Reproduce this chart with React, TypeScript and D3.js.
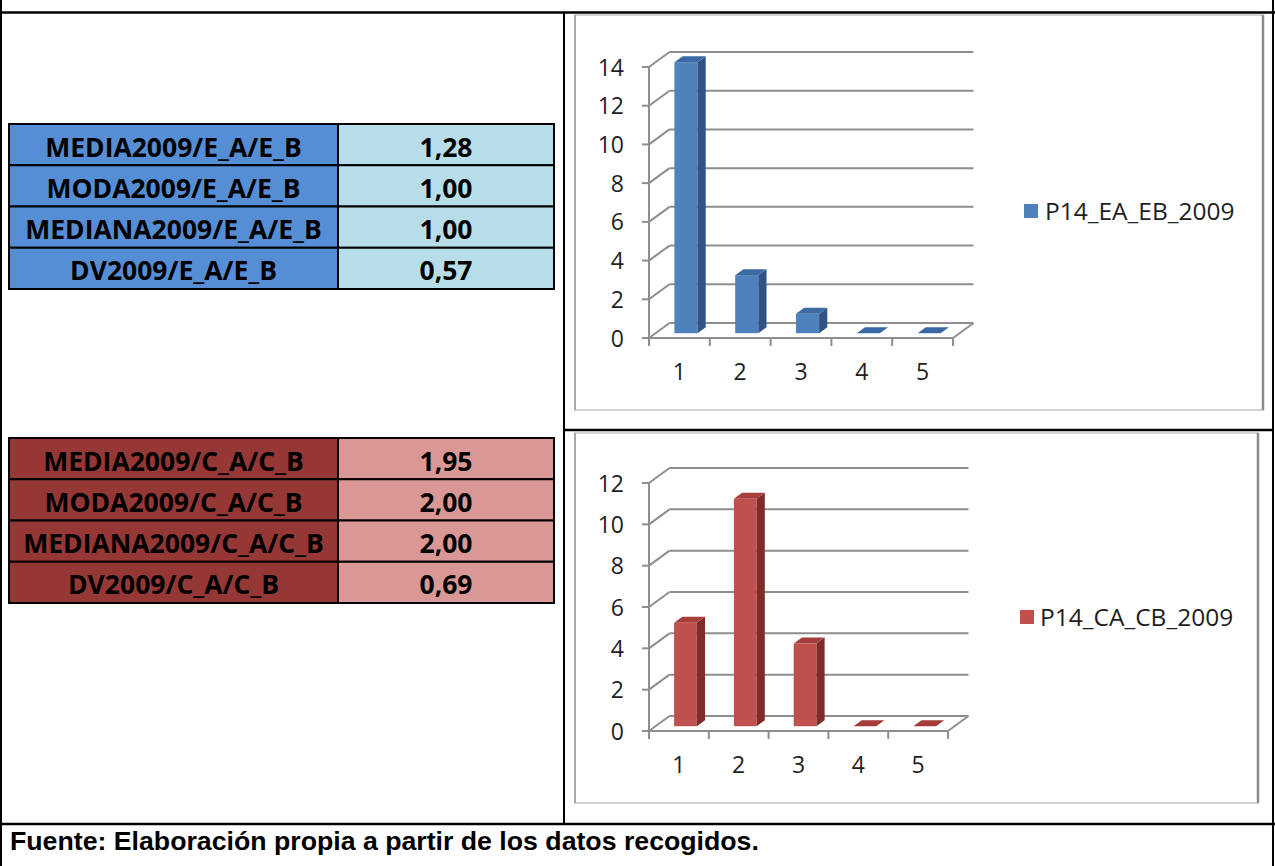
import React from "react";
import * as d3 from "d3";

// Frequency counts per answer category (1–5)
const categories = ["1", "2", "3", "4", "5"];
const eaEbCounts = [14, 3, 1, 0, 0];
const caCbCounts = [5, 11, 4, 0, 0];
const eaEbTicks = [0, 2, 4, 6, 8, 10, 12, 14];
const caCbTicks = [0, 2, 4, 6, 8, 10, 12];

// Summary statistics tables
const statLabelsE = ["MEDIA2009/E_A/E_B", "MODA2009/E_A/E_B", "MEDIANA2009/E_A/E_B", "DV2009/E_A/E_B"];
const statValuesE = ["1,28", "1,00", "1,00", "0,57"];
const statLabelsC = ["MEDIA2009/C_A/C_B", "MODA2009/C_A/C_B", "MEDIANA2009/C_A/C_B", "DV2009/C_A/C_B"];
const statValuesC = ["1,95", "2,00", "2,00", "0,69"];

const seriesNames = ["P14_EA_EB_2009", "P14_CA_CB_2009"];
const sourceNote = "Fuente: Elaboración propia a partir de los datos recogidos.";

const W = 1275;
const H = 866;

type Palette = { front: string; side: string; top: string; flat: string };
const blue: Palette = { front: "#4f81bd", side: "#2f5384", top: "#3d6aa3", flat: "#3a68a2" };
const red: Palette = { front: "#c0504d", side: "#7e2c2a", top: "#a63f3c", flat: "#a33b38" };

type ChartLayout = {
  frame: { x: number; y: number; w: number; h: number };
  x0: number;
  x1: number;
  yBase: number;
  yTop: number;
  yMax: number;
  legendSquareX: number;
  legendTextX: number;
  legendBaseline: number;
};

const DX = 20.5;
const DY = -15;
const GRID = "#8e8e8e";
const AXIS_FONT = 23;

function Bar3DChart({
  values,
  ticks,
  layout,
  palette,
  name,
}: {
  values: number[];
  ticks: number[];
  layout: ChartLayout;
  palette: Palette;
  name: string;
}) {
  const { frame, x0, x1, yBase, yTop, yMax } = layout;
  const x = d3.scaleBand<string>().domain(categories).range([x0, x1]);
  const y = d3.scaleLinear().domain([0, yMax]).range([yBase, yTop]);
  const bw = x.bandwidth();
  const barW = bw * 0.38;
  const f0 = 0.32;
  const f1 = 0.72;
  const ox = f0 * DX;
  const oy = f0 * DY;
  const sx = (f1 - f0) * DX;
  const sy = (f1 - f0) * DY;

  return (
    <g>
      {/* chart frame */}
      <rect x={frame.x} y={frame.y} width={frame.w} height={frame.h} fill="#fff" stroke="#c4c4c4" strokeWidth={1.5} />
      <line x1={frame.x + frame.w} y1={frame.y} x2={frame.x + frame.w} y2={frame.y + frame.h} stroke="#8c8c8c" strokeWidth={2.5} />
      <line x1={frame.x} y1={frame.y} x2={frame.x} y2={frame.y + frame.h} stroke="#a8a8a8" strokeWidth={2} />

      {/* back wall gridlines and side diagonals */}
      {ticks.map((t) => (
        <g key={t}>
          <line x1={x0} y1={y(t)} x2={x0 + DX} y2={y(t) + DY} stroke={GRID} strokeWidth={2} />
          <line x1={x0 + DX} y1={y(t) + DY} x2={x1 + DX} y2={y(t) + DY} stroke={GRID} strokeWidth={2} />
          <line x1={x0 - 7} y1={y(t)} x2={x0} y2={y(t)} stroke={GRID} strokeWidth={2} />
          <text
            x={x0 - 25}
            y={y(t) + 8.5}
            textAnchor="end"
            fontFamily="'Open Sans', sans-serif"
            fontSize={AXIS_FONT}
            fill="#1e1e1e"
          >
            {t}
          </text>
        </g>
      ))}
      {/* floor */}
      <line x1={x1} y1={yBase} x2={x1 + DX} y2={yBase + DY} stroke={GRID} strokeWidth={2} />
      <line x1={x0} y1={yBase} x2={x1} y2={yBase} stroke={GRID} strokeWidth={2} />
      {/* value axis */}
      <line x1={x0} y1={yBase} x2={x0} y2={y(yMax)} stroke={GRID} strokeWidth={2} />
      {/* category ticks */}
      {[...categories.map((c) => x(c) as number), x1].map((px, i) => (
        <line key={i} x1={px} y1={yBase} x2={px} y2={yBase + 8} stroke={GRID} strokeWidth={2} />
      ))}
      {categories.map((c) => (
        <text
          key={c}
          x={(x(c) as number) + bw / 2}
          y={yBase + 42}
          textAnchor="middle"
          fontFamily="'Open Sans', sans-serif"
          fontSize={AXIS_FONT}
          fill="#1e1e1e"
        >
          {c}
        </text>
      ))}

      {/* bars */}
      {values.map((v, i) => {
        const left = (x(categories[i]) as number) + (bw - barW) / 2 + ox;
        const right = left + barW;
        const bottom = yBase + oy;
        const top = y(v) + oy;
        if (v === 0) {
          const pts = [
            [left, bottom],
            [right, bottom],
            [right + sx, bottom + sy],
            [left + sx, bottom + sy],
          ];
          return <polygon key={i} points={pts.map((p) => p.join(",")).join(" ")} fill={palette.flat} />;
        }
        const topFace = [
          [left, top],
          [right, top],
          [right + sx, top + sy],
          [left + sx, top + sy],
        ];
        const sideFace = [
          [right, top],
          [right + sx, top + sy],
          [right + sx, bottom + sy],
          [right, bottom],
        ];
        return (
          <g key={i}>
            <rect x={left} y={top} width={barW} height={bottom - top} fill={palette.front} />
            <polygon points={sideFace.map((p) => p.join(",")).join(" ")} fill={palette.side} />
            <polygon points={topFace.map((p) => p.join(",")).join(" ")} fill={palette.top} />
          </g>
        );
      })}

      {/* legend */}
      <rect x={layout.legendSquareX} y={layout.legendBaseline - 16} width={14} height={14} fill={palette.front} />
      <text
        x={layout.legendTextX}
        y={layout.legendBaseline}
        fontFamily="'Open Sans', sans-serif"
        fontSize={24.5}
        fill="#1e1e1e"
      >
        {name}
      </text>
    </g>
  );
}

function StatTable({
  labels,
  values,
  top,
  labelFill,
  valueFill,
}: {
  labels: string[];
  values: string[];
  top: number;
  labelFill: string;
  valueFill: string;
}) {
  const left = 9;
  const mid = 338;
  const right = 554;
  const rowH = 41.25;
  const rows = d3.range(labels.length);
  return (
    <g>
      {rows.map((i) => {
        const ry = top + i * rowH;
        return (
          <g key={i}>
            <rect x={left} y={ry} width={mid - left} height={rowH} fill={labelFill} stroke="#000" strokeWidth={2} />
            <rect x={mid} y={ry} width={right - mid} height={rowH} fill={valueFill} stroke="#000" strokeWidth={2} />
            <text
              x={(left + mid) / 2}
              y={ry + 32.5}
              textAnchor="middle"
              fontFamily="'Open Sans', sans-serif"
              fontWeight={700}
              fontSize={26.5}
              fill="#000"
            >
              {labels[i]}
            </text>
            <text
              x={(mid + right) / 2}
              y={ry + 32.5}
              textAnchor="middle"
              fontFamily="'Open Sans', sans-serif"
              fontWeight={700}
              fontSize={26.5}
              fill="#000"
            >
              {values[i]}
            </text>
          </g>
        );
      })}
    </g>
  );
}

export default function App() {
  const topLayout: ChartLayout = {
    frame: { x: 575, y: 15, w: 688, h: 395 },
    x0: 649,
    x1: 953,
    yBase: 338,
    yTop: 67,
    yMax: 14,
    legendSquareX: 1024,
    legendTextX: 1045,
    legendBaseline: 220,
  };
  const bottomLayout: ChartLayout = {
    frame: { x: 575, y: 433, w: 683, h: 370 },
    x0: 649,
    x1: 948,
    yBase: 731,
    yTop: 483,
    yMax: 12,
    legendSquareX: 1020,
    legendTextX: 1040,
    legendBaseline: 626,
  };
  return (
    <svg
      width={W}
      height={H}
      viewBox={`0 0 ${W} ${H}`}
      style={{ position: "absolute", left: 0, top: 0, background: "#fff" }}
    >
      <rect x={0} y={0} width={W} height={H} fill="#fff" />

      <StatTable labels={statLabelsE} values={statValuesE} top={124} labelFill="#558ed5" valueFill="#b7dee8" />
      <StatTable labels={statLabelsC} values={statValuesC} top={438} labelFill="#953735" valueFill="#d99795" />

      <Bar3DChart values={eaEbCounts} ticks={eaEbTicks} layout={topLayout} palette={blue} name={seriesNames[0]} />
      <Bar3DChart values={caCbCounts} ticks={caCbTicks} layout={bottomLayout} palette={red} name={seriesNames[1]} />

      {/* outer table rules */}
      <line x1={1} y1={0} x2={1} y2={H} stroke="#000" strokeWidth={2} />
      <line x1={1273} y1={0} x2={1273} y2={H} stroke="#000" strokeWidth={2} />
      <line x1={0} y1={12.5} x2={W} y2={12.5} stroke="#000" strokeWidth={2.5} />
      <line x1={564} y1={12} x2={564} y2={824} stroke="#000" strokeWidth={2} />
      <line x1={564} y1={430} x2={1274} y2={430} stroke="#000" strokeWidth={2.5} />
      <line x1={0} y1={824} x2={W} y2={824} stroke="#000" strokeWidth={2.5} />

      <text x={10} y={850} fontFamily="'Liberation Sans', Arial, sans-serif" fontWeight={700} fontSize={26.7} fill="#000">
        {sourceNote}
      </text>
    </svg>
  );
}
